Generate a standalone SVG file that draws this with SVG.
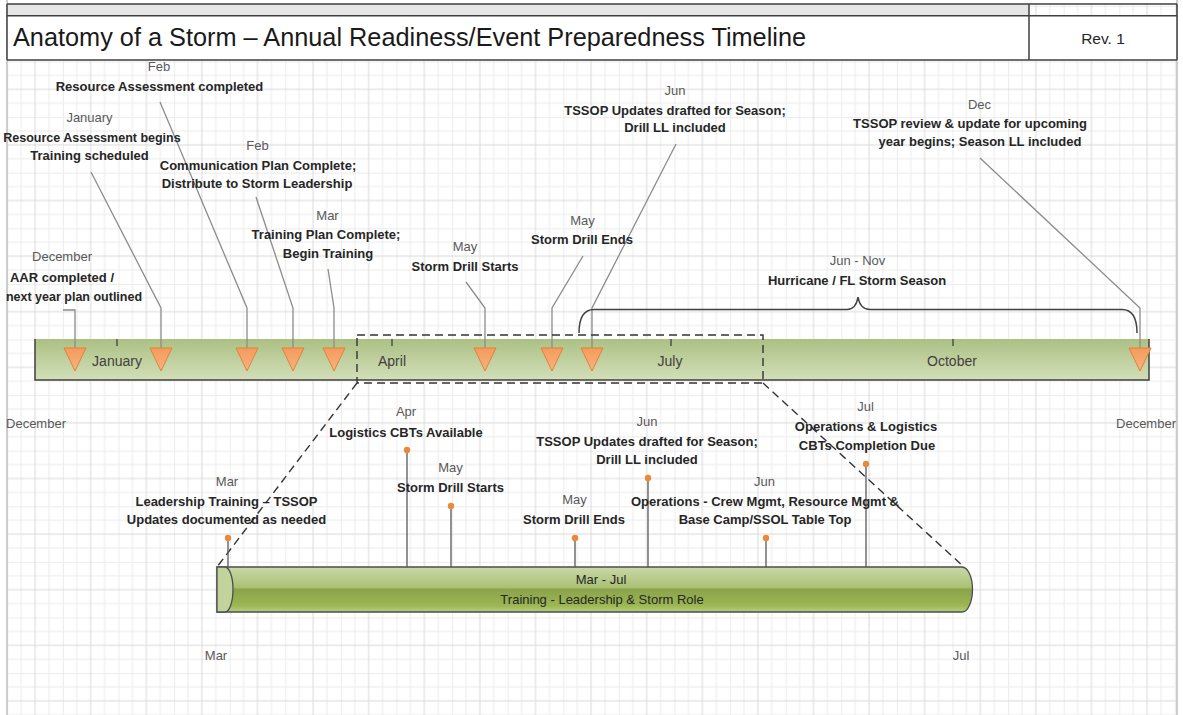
<svg xmlns="http://www.w3.org/2000/svg" width="1183" height="715" viewBox="0 0 1183 715">
<style>
text{font-family:"Liberation Sans",Arial,sans-serif;}
.m{font-size:13px;fill:#595959;text-anchor:middle;}
.b{font-size:13px;font-weight:bold;fill:#262626;text-anchor:middle;}
.bm{font-size:14px;fill:#404040;text-anchor:middle;}
.ld{fill:none;stroke:#8c8c8c;stroke-width:1.3;}
.tri{fill:url(#triG);stroke:#e2823a;stroke-width:1;}
.tick{stroke:#404040;stroke-width:1.3;}
.stem{stroke:#595959;stroke-width:1.3;}
.dot{fill:#e8893c;}
.dash{fill:none;stroke:#333;stroke-width:1.4;stroke-dasharray:8 5;}
</style>
<defs>
<pattern id="grid" x="7.3" y="5.9" width="55.6" height="55.6" patternUnits="userSpaceOnUse">
<path d="M0.5,0V55.6M13.9,0V55.6M41.7,0V55.6M0,0.5H55.6M0,13.9H55.6M0,41.7H55.6" stroke="#ececec" stroke-width="1"/>
<path d="M27.8,0V55.6M0,27.8H55.6" stroke="#d9d9d9" stroke-width="1"/>
</pattern>
<linearGradient id="barG" x1="0" y1="0" x2="0" y2="1">
<stop offset="0" stop-color="#abc084"/>
<stop offset="1" stop-color="#d3dfb8"/>
</linearGradient>
<linearGradient id="triG" x1="0" y1="0" x2="0" y2="1">
<stop offset="0" stop-color="#f49b5c"/>
<stop offset="1" stop-color="#f8b37f"/>
</linearGradient>
<linearGradient id="cylG" x1="0" y1="0" x2="0" y2="1">
<stop offset="0" stop-color="#cad8a8"/>
<stop offset="0.45" stop-color="#abc175"/>
<stop offset="0.5" stop-color="#8ca34c"/>
<stop offset="0.85" stop-color="#9bb652"/>
<stop offset="1" stop-color="#b8cd7e"/>
</linearGradient>
</defs>

<!-- background grid -->
<rect x="0" y="0" width="1183" height="715" fill="#ffffff"/>
<rect x="7" y="4" width="1170" height="711" fill="url(#grid)"/>
<path d="M7,0V715M1177,0V715" stroke="#cccccc" stroke-width="2"/>

<!-- title block -->
<g id="title">
<rect x="7" y="4" width="1022" height="11.7" fill="#e6e6e6"/>
<rect x="7" y="15.7" width="1022" height="44.3" fill="#ffffff"/>
<rect x="1029" y="15.7" width="148" height="44.3" fill="#ffffff"/>
<path d="M7,4H1177M7,15.7H1177M7,60H1177M7,4V60M1029,4V60M1177,4V60" fill="none" stroke="#404040" stroke-width="1.5"/>
<text x="13" y="46" style="font-size:25.3px;fill:#1a1a1a;">Anatomy of a Storm – Annual Readiness/Event Preparedness Timeline</text>
<text x="1103" y="43.5" style="font-size:15.5px;fill:#262626;text-anchor:middle;">Rev. 1</text>
</g>

<!-- main timeline bar -->
<g id="main-bar">
<rect x="35" y="339" width="1114" height="41" fill="url(#barG)"/>
<path d="M35,339V380H1149V339" fill="none" stroke="#404040" stroke-width="1.5"/>
<path class="tick" d="M117,339V346M392,339V346M671,339V346M953,339V346"/>
<text class="bm" x="117" y="366">January</text>
<text class="bm" x="392" y="366">April</text>
<text class="bm" x="670" y="366">July</text>
<text class="bm" x="952" y="366">October</text>
<text class="m" x="36" y="427.5">December</text>
<text class="m" x="1146" y="427.5">December</text>
</g>

<!-- connectors -->
<g id="connectors">
<path class="ld" d="M63,310H75V348"/>
<path class="ld" d="M91,172L161,308V348"/>
<path class="ld" d="M160,102L247,308V348"/>
<path class="ld" d="M256,197L293,308V348"/>
<path class="ld" d="M328,269L334,308V348"/>
<path class="ld" d="M466,282L485,308V348"/>
<path class="ld" d="M583,256L552,308V348"/>
<path class="ld" d="M676,144L592,308V348"/>
<path class="ld" d="M980,158L1140,308V348"/>
<path d="M579,333Q579,309.5 594,309.5L847,309.5Q856,309.5 858,297Q860,309.5 870,309.5L1122,309.5Q1137,309.5 1137,333" fill="none" stroke="#404040" stroke-width="1.5"/>
<rect class="dash" x="357" y="335" width="406" height="48"/>
<path class="dash" d="M357,383L217,567"/>
<path class="dash" d="M763,383L964,567"/>
<path class="stem" d="M228,538V567M407,450V567M451,506V567M575,538V567M648,478V567M766,538V567M866,464V567"/>
</g>

<!-- top milestones -->
<g id="ms-dec">
<polygon class="tri" points="64,348 86,348 75,371"/>
<text class="m" x="62" y="261">December</text>
<text class="b" x="62" y="281.5">AAR completed /</text>
<text class="b" x="74" y="300.5" style="font-size:12.5px">next year plan outlined</text>
</g>
<g id="ms-jan">
<polygon class="tri" points="150,348 172,348 161,371"/>
<text class="m" x="89.5" y="122">January</text>
<text class="b" x="92" y="142" style="font-size:12.5px">Resource Assessment begins</text>
<text class="b" x="89.5" y="160">Training scheduled</text>
</g>
<g id="ms-feb-ra">
<polygon class="tri" points="236,348 258,348 247,371"/>
<text class="m" x="159" y="71">Feb</text>
<text class="b" x="159.5" y="90.5">Resource Assessment completed</text>
</g>
<g id="ms-feb-cp">
<polygon class="tri" points="282,348 304,348 293,371"/>
<text class="m" x="257.5" y="150">Feb</text>
<text class="b" x="258" y="169.5">Communication Plan Complete;</text>
<text class="b" x="257" y="188">Distribute to Storm Leadership</text>
</g>
<g id="ms-mar-tp">
<polygon class="tri" points="323,348 345,348 334,371"/>
<text class="m" x="327.5" y="219.5">Mar</text>
<text class="b" x="326" y="238.5">Training Plan Complete;</text>
<text class="b" x="328" y="258">Begin Training</text>
</g>
<g id="ms-may-start">
<polygon class="tri" points="474,348 496,348 485,371"/>
<text class="m" x="465" y="250.5">May</text>
<text class="b" x="465" y="270.5">Storm Drill Starts</text>
</g>
<g id="ms-may-end">
<polygon class="tri" points="541,348 563,348 552,371"/>
<text class="m" x="582.5" y="224.5">May</text>
<text class="b" x="582" y="244">Storm Drill Ends</text>
</g>
<g id="ms-jun-tssop">
<polygon class="tri" points="581,348 603,348 592,371"/>
<text class="m" x="675" y="94.5">Jun</text>
<text class="b" x="675" y="114.5">TSSOP Updates drafted for Season;</text>
<text class="b" x="675" y="132">Drill LL included</text>
</g>
<g id="ms-dec-tssop">
<polygon class="tri" points="1129,348 1151,348 1140,371"/>
<text class="m" x="979.5" y="108.5">Dec</text>
<text class="b" x="970" y="128">TSSOP review &amp; update for upcoming</text>
<text class="b" x="980" y="146">year begins; Season LL included</text>
</g>
<g id="season">
<text class="m" x="857.5" y="265">Jun - Nov</text>
<text class="b" x="857" y="285">Hurricane / FL Storm Season</text>
</g>

<!-- lower training bar -->
<g id="training-bar">
<path d="M217,567H962A10.5,22.5 0 0 1 962,612H217Z" fill="url(#cylG)" stroke="#4d4d4d" stroke-width="1.3"/>
<path d="M217,567H225A8,22.5 0 0 1 225,612H217Z" fill="#c3d39c" stroke="#4d4d4d" stroke-width="1.3"/>
<text x="601" y="583.5" style="font-size:13px;fill:#262626;text-anchor:middle;">Mar - Jul</text>
<text x="602" y="603.5" style="font-size:13px;fill:#262626;text-anchor:middle;">Training - Leadership &amp; Storm Role</text>
<text class="m" x="216" y="659.5">Mar</text>
<text class="m" x="961" y="659.5">Jul</text>
</g>

<!-- lower milestones -->
<g id="lm-mar">
<circle class="dot" cx="228" cy="538" r="3.2"/>
<text class="m" x="227" y="485.5">Mar</text>
<text class="b" x="226.5" y="505.5">Leadership Training – TSSOP</text>
<text class="b" x="226.5" y="524">Updates documented as needed</text>
</g>
<g id="lm-apr">
<circle class="dot" cx="407" cy="450" r="3.2"/>
<text class="m" x="406" y="415.5">Apr</text>
<text class="b" x="406" y="436.5">Logistics CBTs Available</text>
</g>
<g id="lm-may-start">
<circle class="dot" cx="451" cy="506" r="3.2"/>
<text class="m" x="450.5" y="472">May</text>
<text class="b" x="450.5" y="492">Storm Drill Starts</text>
</g>
<g id="lm-may-end">
<circle class="dot" cx="575" cy="538" r="3.2"/>
<text class="m" x="574.5" y="504">May</text>
<text class="b" x="574" y="523.5">Storm Drill Ends</text>
</g>
<g id="lm-jun-tssop">
<circle class="dot" cx="648" cy="478" r="3.2"/>
<text class="m" x="647" y="425.5">Jun</text>
<text class="b" x="647" y="446">TSSOP Updates drafted for Season;</text>
<text class="b" x="647" y="464">Drill LL included</text>
</g>
<g id="lm-jun-ops">
<circle class="dot" cx="766" cy="538" r="3.2"/>
<text class="m" x="764.5" y="486">Jun</text>
<text class="b" x="765" y="506">Operations - Crew Mgmt, Resource Mgmt &amp;</text>
<text class="b" x="765" y="524">Base Camp/SSOL Table Top</text>
</g>
<g id="lm-jul">
<circle class="dot" cx="866" cy="464" r="3.2"/>
<text class="m" x="865.5" y="411">Jul</text>
<text class="b" x="866" y="431">Operations &amp; Logistics</text>
<text class="b" x="867" y="449.5">CBTs Completion Due</text>
</g>
</svg>
